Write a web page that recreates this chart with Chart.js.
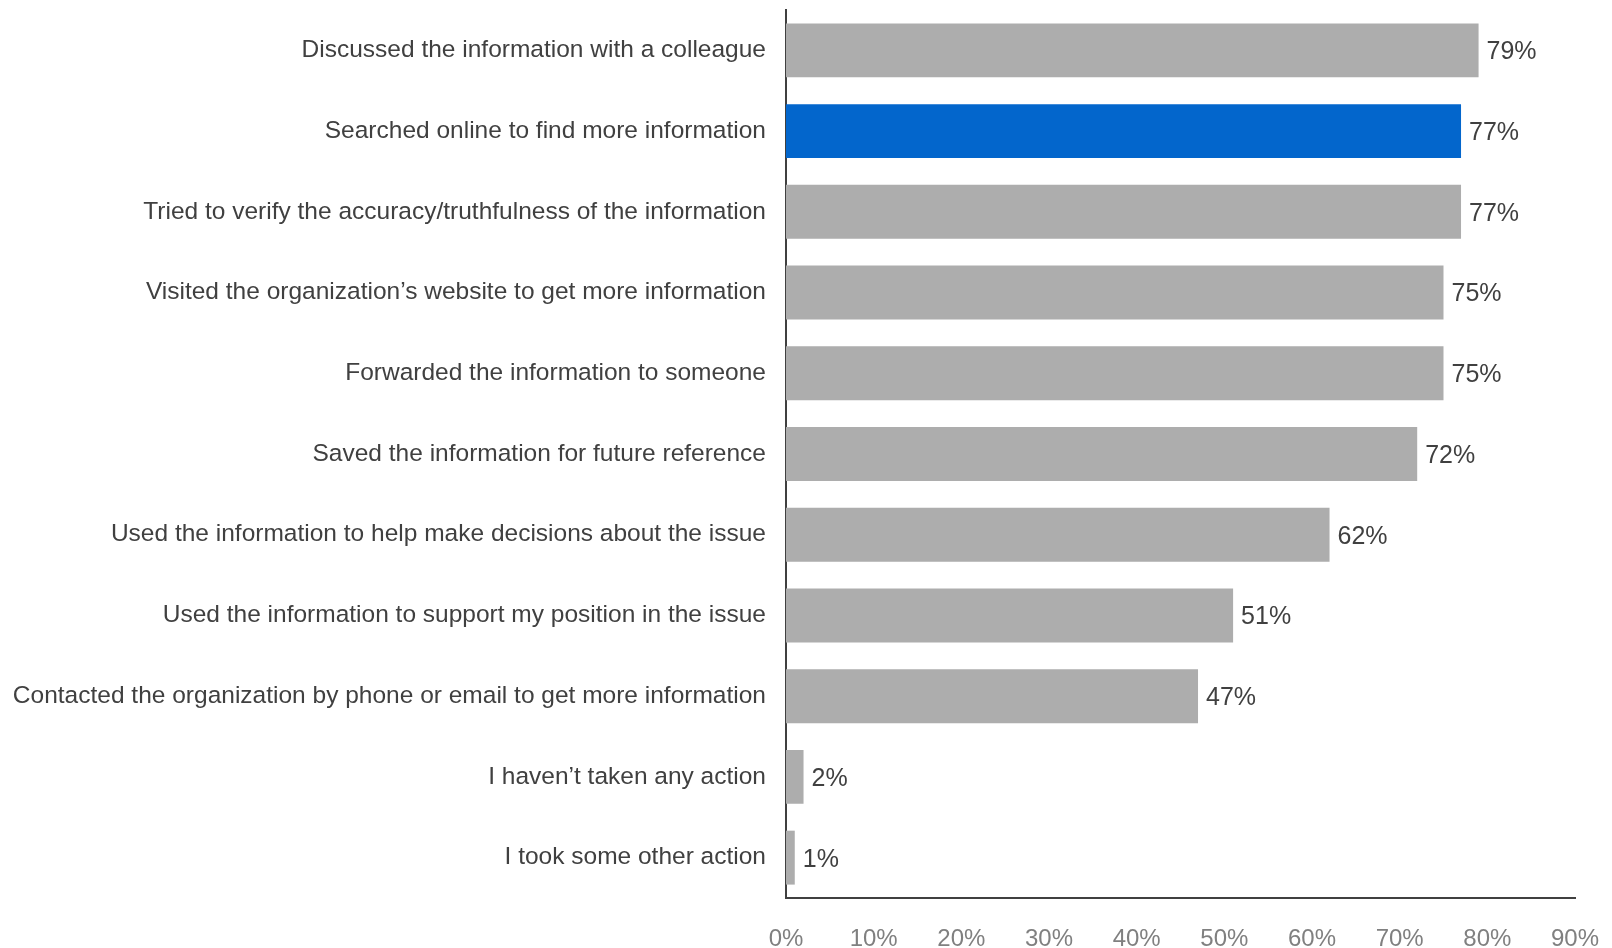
<!DOCTYPE html>
<html>
<head>
<meta charset="utf-8">
<script src="https://cdn.jsdelivr.net/npm/chart.js@4/dist/chart.umd.min.js"></script>
<style>
  html, body { margin: 0; padding: 0; background: #ffffff; }
  #wrap { width: 1612px; height: 948px; position: relative; }
</style>
</head>
<body>
<div id="wrap"><canvas id="chart"></canvas></div>
<script>
// Actions taken after encountering the information
const categories = [
  "Discussed the information with a colleague",
  "Searched online to find more information",
  "Tried to verify the accuracy/truthfulness of the information",
  "Visited the organization\u2019s website to get more information",
  "Forwarded the information to someone",
  "Saved the information for future reference",
  "Used the information to help make decisions about the issue",
  "Used the information to support my position in the issue",
  "Contacted the organization by phone or email to get more information",
  "I haven\u2019t taken any action",
  "I took some other action"
];
const shares = [79, 77, 77, 75, 75, 72, 62, 51, 47, 2, 1];
const highlighted = [false, true, false, false, false, false, false, false, false, false, false];
const xTicks = [0, 10, 20, 30, 40, 50, 60, 70, 80, 90];

const GREY = "#adadad";
const BLUE = "#0366cc";
const TEXT = "#404040";
const FONT = "'Liberation Sans', Arial, sans-serif";

// Percentage printed just past the end of each bar
const valueLabels = {
  id: "valueLabels",
  afterDatasetsDraw(chart) {
    const ctx = chart.ctx;
    const meta = chart.getDatasetMeta(0);
    ctx.save();
    ctx.font = "25px " + FONT;
    ctx.fillStyle = TEXT;
    ctx.textAlign = "left";
    ctx.textBaseline = "middle";
    meta.data.forEach((bar, i) => {
      ctx.fillText(shares[i] + "%", bar.x + 8, bar.y + 2);
    });
    ctx.restore();
  }
};

new Chart(document.getElementById("chart"), {
  type: "bar",
  data: {
    labels: categories,
    datasets: [{
      data: shares,
      backgroundColor: highlighted.map(h => h ? BLUE : GREY),
      borderWidth: 0,
      categoryPercentage: 1,
      barPercentage: 0.668
    }]
  },
  options: {
    indexAxis: "y",
    responsive: true,
    maintainAspectRatio: false,
    animation: false,
    layout: { padding: { top: 10, right: 37, bottom: 0, left: 0 } },
    plugins: {
      legend: { display: false },
      tooltip: { enabled: false }
    },
    scales: {
      x: {
        min: 0,
        max: 90,
        afterBuildTicks(scale) {
          scale.ticks = xTicks.map(v => ({ value: v }));
        },
        afterFit(scale) {
          scale.height = 50;
          scale.paddingLeft = 0;
          scale.paddingRight = 0;
        },
        grid: { display: false, drawTicks: false },
        border: { display: true, color: TEXT, width: 2 },
        ticks: {
          padding: 27,
          color: "#808080",
          font: { family: FONT, size: 24 },
          callback: v => v + "%"
        }
      },
      y: {
        afterFit(scale) {
          scale.width = 786;
          scale.paddingTop = 0;
          scale.paddingBottom = 0;
        },
        grid: { display: false, drawTicks: false },
        border: { display: true, color: TEXT, width: 2 },
        ticks: {
          padding: 20,
          color: TEXT,
          font: { family: FONT, size: 24.5 },
          autoSkip: false
        }
      }
    }
  },
  plugins: [valueLabels]
});
</script>
</body>
</html>
